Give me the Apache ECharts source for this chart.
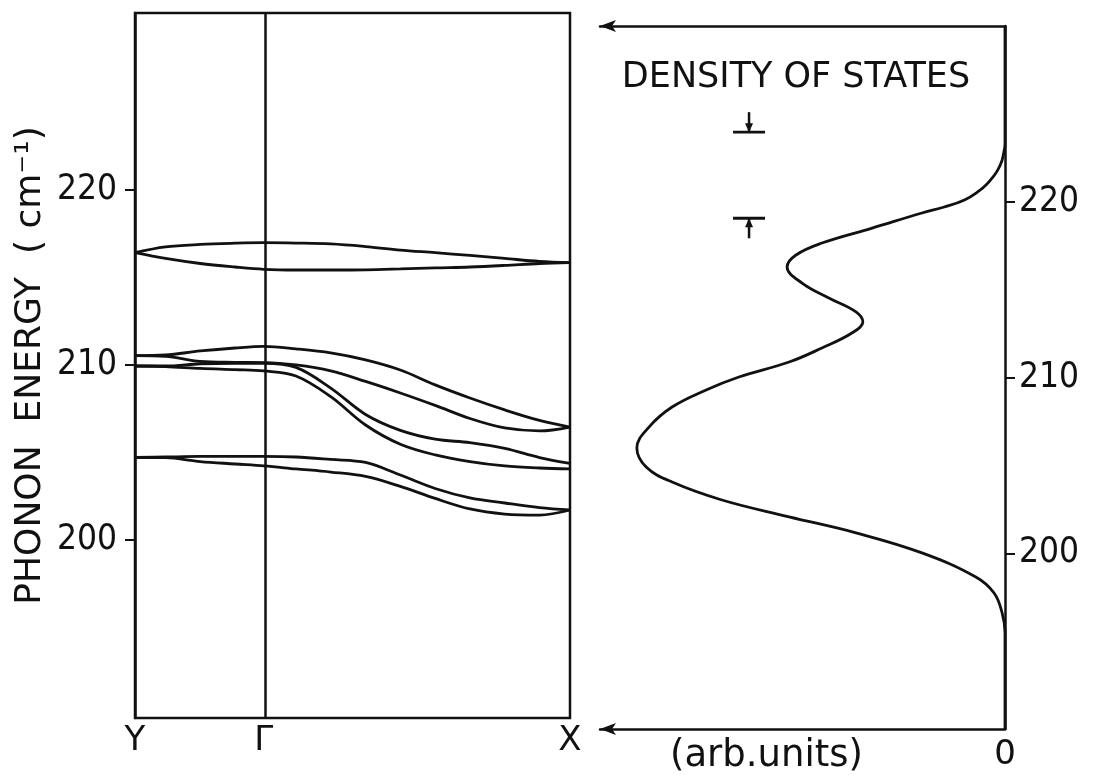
<!DOCTYPE html>
<html>
<head>
<meta charset="utf-8">
<script src="https://cdn.jsdelivr.net/npm/echarts@6/dist/echarts.min.js"></script>
<style>
html, body { margin: 0; padding: 0; background: #fff; }
#chart { width: 1100px; height: 775px; }
</style>
</head>
<body>
<div id="chart"></div>
<script>
// Wave-vector path Y – Γ – X, as a fraction of the path length
const kLabels = ['Y', 'Γ', 'X'];
const kLabelPos = [0, 0.296, 1];
const kPos = [0, 0.07, 0.15, 0.23, 0.296, 0.37, 0.45, 0.53, 0.61, 0.69, 0.77, 0.85, 0.93, 1];

// Phonon branches (cm^-1) sampled at kPos
const band1 = [216.40, 216.73, 216.87, 216.94, 216.97, 216.95, 216.90, 216.75, 216.55, 216.40, 216.24, 216.07, 215.90, 215.83];
const band2 = [216.40, 216.07, 215.78, 215.58, 215.45, 215.41, 215.41, 215.42, 215.47, 215.53, 215.58, 215.67, 215.78, 215.83];
const band3 = [210.51, 210.55, 210.78, 210.95, 211.04, 210.90, 210.67, 210.27, 209.69, 208.84, 208.09, 207.41, 206.81, 206.43];
const band4 = [210.51, 210.47, 210.18, 210.13, 210.12, 209.98, 209.64, 209.04, 208.38, 207.67, 206.92, 206.38, 206.21, 206.43];
const band5 = [209.92, 209.92, 210.05, 210.08, 210.08, 209.84, 208.66, 207.15, 206.24, 205.74, 205.54, 205.21, 204.69, 204.36];
const band6 = [209.92, 209.89, 209.78, 209.71, 209.64, 209.35, 208.17, 206.55, 205.45, 204.84, 204.46, 204.21, 204.09, 204.04];
const band7 = [204.69, 204.72, 204.75, 204.75, 204.75, 204.72, 204.58, 204.41, 203.69, 202.92, 202.38, 202.09, 201.83, 201.69];
const band8 = [204.69, 204.68, 204.46, 204.32, 204.21, 204.04, 203.86, 203.61, 203.04, 202.35, 201.75, 201.46, 201.40, 201.69];

// Density of states (arb. units) against energy (cm^-1)
const dosEnergy = [230, 223.3, 222.8, 222.3, 221.8, 221.4, 221.0, 220.6, 220.1, 219.7, 219.36, 218.5, 217.65, 216.97, 216.29, 215.37, 214.52, 213.73, 213.16, 212.53, 211.68, 210.88, 210.03, 209.29, 208.32, 207.18, 205.99, 204.91, 204.05, 203.03, 202.07, 201.16, 200.02, 198.65, 197.74, 196.6, 195.5, 190];
const dosValue = [0, 0, 0.03, 0.08, 0.18, 0.3, 0.45, 0.65, 1.0, 1.5, 2.05, 3.28, 4.52, 5.16, 5.38, 5.01, 4.35, 3.68, 3.51, 3.78, 4.52, 5.33, 6.57, 7.38, 8.22, 8.79, 9.09, 8.86, 8.22, 6.99, 5.33, 3.68, 2.05, 0.72, 0.27, 0.07, 0, 0];

// Marked levels in the DOS panel: energy, arrow direction (-1 from above, 1 from below)
const markEnergy = [223.96, 219.06];
const markDir = [-1, 1];
const markPos = 6.32;

const energyTicks = [200, 210, 220];

const INK = '#111';
const FONT = "'DejaVu Sans Condensed', 'DejaVu Sans', sans-serif";
const FONT_WIDE = "'DejaVu Sans', sans-serif";

const bands = [band1, band2, band3, band4, band5, band6, band7, band8];

const bandSeries = bands.map((b, idx) => {
  const s = {
    type: 'line',
    xAxisIndex: 0,
    yAxisIndex: 0,
    data: kPos.map((k, i) => [k, b[i]]),
    smooth: 0.35,
    showSymbol: false,
    silent: true,
    lineStyle: { color: INK, width: 2.8 }
  };
  if (idx === 0) {
    s.markLine = {
      silent: true,
      symbol: ['none', 'none'],
      label: { show: false },
      lineStyle: { color: INK, width: 2.5, type: 'solid' },
      data: [{ xAxis: kLabelPos[1] }]
    };
  }
  return s;
});

const arrowLine = {
  show: true,
  lineStyle: { color: INK, width: 2.5 },
  symbol: ['arrow', 'none'],
  symbolSize: [9, 16]
};

const option = {
  animation: false,
  backgroundColor: '#fff',
  grid: [
    { left: 135, top: 13, width: 435, height: 705, show: true, borderColor: INK, borderWidth: 2.5, backgroundColor: 'transparent', outerBoundsMode: 'none', containLabel: false },
    { left: 600, top: 26, width: 405, height: 703, outerBoundsMode: 'none', containLabel: false }
  ],
  xAxis: [
    {
      gridIndex: 0, type: 'value', min: 0, max: 1,
      axisLine: { show: false }, axisTick: { show: false }, splitLine: { show: false },
      axisLabel: {
        customValues: kLabelPos,
        formatter: v => kLabels[kLabelPos.indexOf(v)],
        margin: 6, color: INK, fontSize: 34, fontFamily: FONT_WIDE
      }
    },
    {
      gridIndex: 1, type: 'value', min: 0, max: 10, inverse: true, position: 'bottom',
      axisLine: arrowLine, axisTick: { show: false }, splitLine: { show: false },
      axisLabel: {
        customValues: [0], formatter: '{value}',
        margin: 9, color: INK, fontSize: 34, fontFamily: FONT_WIDE
      },
      name: '(arb.units)', nameLocation: 'middle', nameGap: 9, nameMoveOverlap: false,
      nameTextStyle: { color: INK, fontSize: 37, fontFamily: FONT_WIDE, padding: [0, 72, 0, 0] }
    },
    {
      gridIndex: 1, type: 'value', min: 0, max: 10, inverse: true, position: 'top',
      axisLine: arrowLine, axisTick: { show: false }, splitLine: { show: false },
      axisLabel: { show: false }
    }
  ],
  yAxis: [
    {
      gridIndex: 0, type: 'value', min: 189.8, max: 230.1,
      axisLine: { show: true, lineStyle: { color: INK, width: 2.5 } },
      axisTick: { customValues: energyTicks, length: 10, lineStyle: { color: INK, width: 2 } },
      axisLabel: { customValues: energyTicks, margin: 18, color: INK, fontSize: 35, fontFamily: FONT },
      splitLine: { show: false },
      name: 'PHONON  ENERGY  ( cm⁻¹)', nameLocation: 'middle', nameRotate: 90, nameGap: 86, nameMoveOverlap: false,
      nameTextStyle: { color: INK, fontSize: 36, fontFamily: FONT_WIDE }
    },
    {
      gridIndex: 1, type: 'value', min: 190, max: 230, position: 'right',
      axisLine: { show: true, lineStyle: { color: INK, width: 2.5 } },
      axisTick: { customValues: energyTicks, length: 10, lineStyle: { color: INK, width: 2 } },
      axisLabel: { customValues: energyTicks, margin: 14, color: INK, fontSize: 35, fontFamily: FONT },
      splitLine: { show: false }
    }
  ],
  graphic: [
    {
      type: 'text', x: 796, y: 78, silent: true,
      style: { text: 'DENSITY OF STATES', fill: INK, font: "35px 'DejaVu Sans', sans-serif", align: 'center', verticalAlign: 'middle' }
    }
  ],
  series: bandSeries.concat([
    {
      type: 'line',
      xAxisIndex: 1,
      yAxisIndex: 1,
      data: dosEnergy.map((e, i) => [dosValue[i], e]),
      smooth: 0.4,
      showSymbol: false,
      silent: true,
      lineStyle: { color: INK, width: 2.8 }
    },
    {
      type: 'custom',
      xAxisIndex: 1,
      yAxisIndex: 1,
      silent: true,
      data: markEnergy.map((e, i) => [markPos, e, markDir[i]]),
      renderItem: (params, api) => {
        const p = api.coord([api.value(0), api.value(1)]);
        const dir = api.value(2);
        const half = 16, len = 20, head = 9, hw = 4;
        return {
          type: 'group',
          children: [
            { type: 'line', shape: { x1: p[0] - half, y1: p[1], x2: p[0] + half, y2: p[1] }, style: { stroke: INK, lineWidth: 2.8 } },
            { type: 'line', shape: { x1: p[0], y1: p[1] + dir * len, x2: p[0], y2: p[1] }, style: { stroke: INK, lineWidth: 2.5 } },
            { type: 'polygon', shape: { points: [[p[0], p[1]], [p[0] - hw, p[1] + dir * head], [p[0] + hw, p[1] + dir * head]] }, style: { fill: INK } }
          ]
        };
      }
    }
  ])
};

const chart = echarts.init(document.getElementById('chart'), null, { renderer: 'canvas' });
chart.setOption(option);
</script>
</body>
</html>
